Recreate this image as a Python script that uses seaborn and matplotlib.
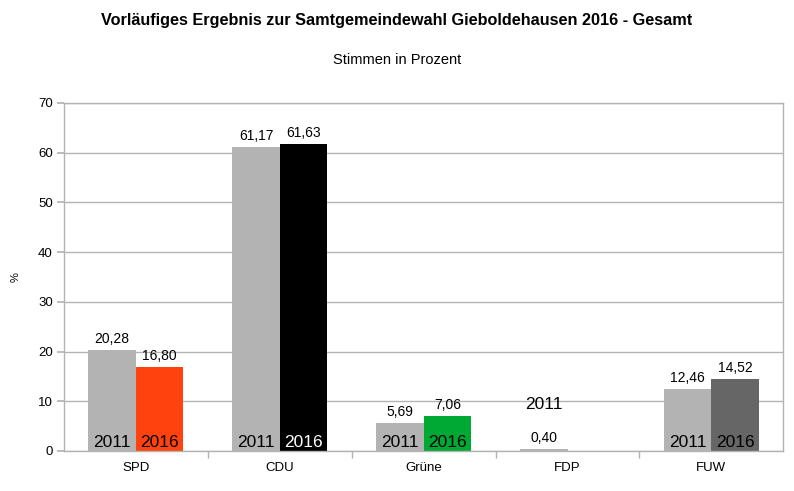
import matplotlib
matplotlib.use("Agg")
import matplotlib.pyplot as plt
import seaborn as sns
import pandas as pd
import numpy as np

# data
parteien = ["SPD", "CDU", "Grüne", "FDP", "FUW"]
werte_2011 = [20.28, 61.17, 5.69, 0.40, 12.46]
werte_2016 = [16.80, 61.63, 7.06, np.nan, 14.52]
farben_2016 = ["#ff420e", "#000000", "#00a933", "#b3b3b3", "#666666"]
text_2016 = ["black", "white", "black", "black", "black"]

df = pd.DataFrame({
    "Partei": parteien * 2,
    "Jahr": ["2011"] * 5 + ["2016"] * 5,
    "Wert": werte_2011 + werte_2016,
})

sns.set_theme(style="white")
plt.rcParams["font.family"] = ["Liberation Sans", "DejaVu Sans"]
plt.rcParams["text.color"] = "black"
plt.rcParams["xtick.color"] = "black"
plt.rcParams["ytick.color"] = "black"

fig = plt.figure(figsize=(7.94, 4.91), dpi=100)
ax = fig.add_axes([0.0806, 0.0815, 0.906, 0.709])

sns.barplot(data=df, x="Partei", y="Wert", hue="Jahr", order=parteien,
            palette=["#b3b3b3", "#b3b3b3"], width=0.66, gap=0,
            legend=False, ax=ax, zorder=2, linewidth=0)

grau = "#b3b3b3"
for j, (cont, jahr) in enumerate(zip(ax.containers, ["2011", "2016"])):
    for bar in cont:
        h = bar.get_height()
        if np.isnan(h) or h == 0:
            continue
        x = bar.get_x() + bar.get_width() / 2
        i = int(round(x))
        col = "black"
        if jahr == "2016":
            bar.set_facecolor(farben_2016[i])
            col = text_2016[i]
        ax.annotate(f"{h:.2f}".replace(".", ","), (x, h), xytext=(0, 3),
                    textcoords="offset points", ha="center", va="bottom",
                    fontsize=10, color="black")
        # kleine Balken: Jahr oberhalb
        if h > 3:
            ax.text(x, 0.2, jahr, ha="center", va="bottom", fontsize=12.5, color=col, zorder=3)
        else:
            ax.text(x, 9.3, jahr, ha="center", va="center", fontsize=12.5, color=col, zorder=3)

ax.set_ylim(0, 70)
ax.set_xlim(-0.5, 4.5)
ax.set_yticks(range(0, 71, 10))
ax.set_xticks(np.arange(0.5, 4.5, 1), minor=True)
ax.tick_params(axis="x", which="major", length=0, labelsize=9.5, pad=8, labelcolor="black")
ax.tick_params(axis="x", which="minor", length=5, color=grau, direction="out", bottom=True)
ax.tick_params(axis="y", length=5, color=grau, direction="out", left=True, labelsize=9.5, pad=3,
               labelcolor="black")
ax.yaxis.grid(True, color=grau, linewidth=1, zorder=0)
ax.set_axisbelow(True)
for s in ax.spines.values():
    s.set_color(grau)
    s.set_linewidth(1)

ax.set_xlabel("")
ax.set_ylabel("%", fontsize=8, color="black")
ax.yaxis.set_label_coords(-0.06, 0.5)

fig.text(0.5, 0.958, "Vorläufiges Ergebnis zur Samtgemeindewahl Gieboldehausen 2016 - Gesamt",
         ha="center", va="center", fontsize=11.7, fontweight="bold")
fig.text(0.5, 0.877, "Stimmen in Prozent", ha="center", va="center", fontsize=10.5)

fig.savefig("out.png", dpi=100)
